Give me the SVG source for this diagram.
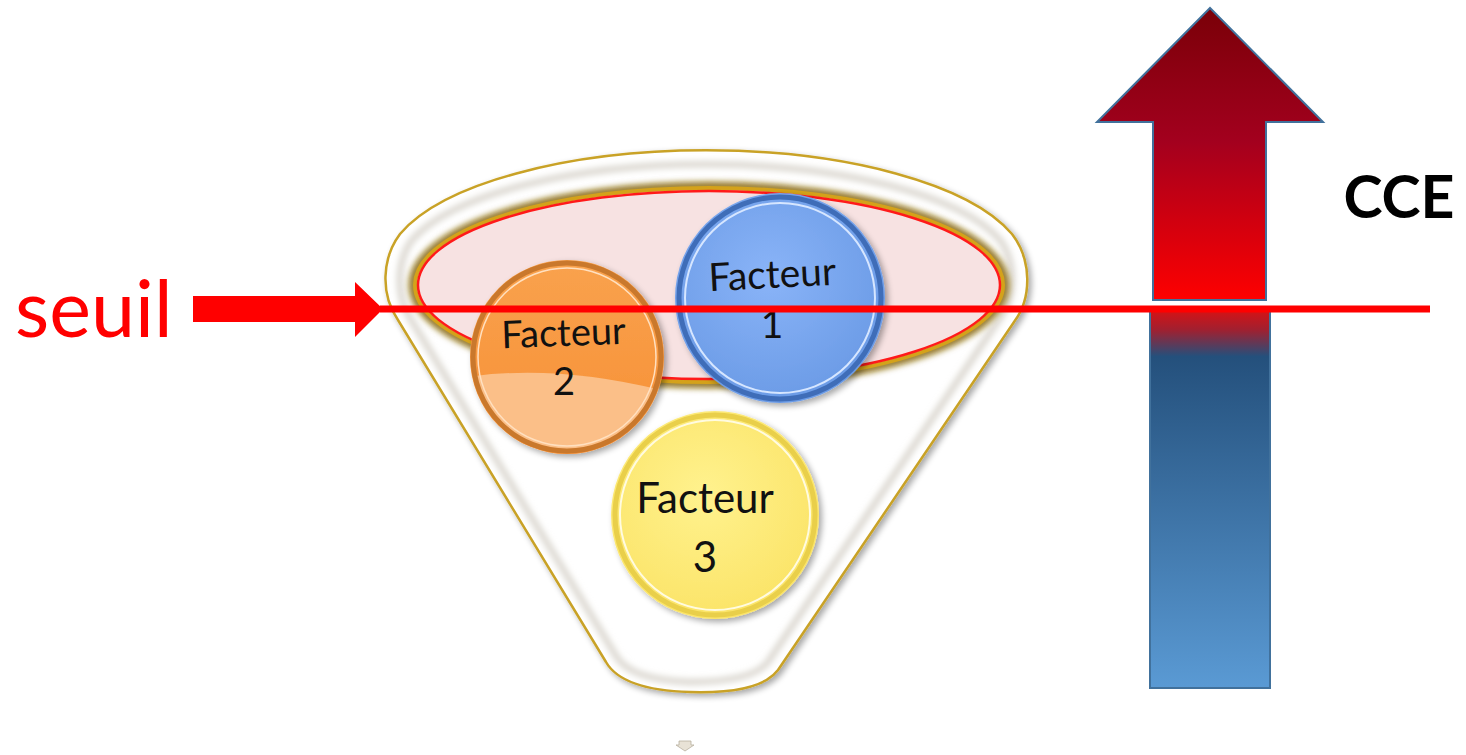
<svg xmlns="http://www.w3.org/2000/svg" width="1466" height="755" viewBox="0 0 1466 755">
  <defs>
    <style>
      .lbl { font-family: Lato, "Liberation Sans", sans-serif; fill: #111; text-anchor: middle; }
      .ring { fill: none; stroke-width: 5; }
    </style>
    <linearGradient id="arrowTop" x1="0" y1="10" x2="0" y2="302" gradientUnits="userSpaceOnUse">
      <stop offset="0" stop-color="#7a0008"/>
      <stop offset="0.45" stop-color="#a3001e"/>
      <stop offset="1" stop-color="#ff0000"/>
    </linearGradient>
    <linearGradient id="arrowLow" x1="0" y1="307" x2="0" y2="688" gradientUnits="userSpaceOnUse">
      <stop offset="0" stop-color="#e01010"/>
      <stop offset="0.06" stop-color="#a02030"/>
      <stop offset="0.13" stop-color="#24507c"/>
      <stop offset="1" stop-color="#5a9ad4"/>
    </linearGradient>
    <radialGradient id="gBlue" cx="0.45" cy="0.4" r="0.6">
      <stop offset="0" stop-color="#8ab4f8"/>
      <stop offset="1" stop-color="#6b9be6"/>
    </radialGradient>
    <linearGradient id="gOrange" x1="0" y1="0" x2="0" y2="1">
      <stop offset="0" stop-color="#f9a24e"/>
      <stop offset="1" stop-color="#f78f34"/>
    </linearGradient>
    <radialGradient id="gYellow" cx="0.45" cy="0.4" r="0.6">
      <stop offset="0" stop-color="#fff28e"/>
      <stop offset="1" stop-color="#fbe468"/>
    </radialGradient>
    <clipPath id="clipOrange">
      <circle cx="567" cy="357" r="94"/>
    </clipPath>
    <filter id="soft" x="-10%" y="-10%" width="120%" height="120%">
      <feGaussianBlur stdDeviation="3"/>
    </filter>
    <filter id="shadow" x="-20%" y="-20%" width="140%" height="140%">
      <feGaussianBlur in="SourceAlpha" stdDeviation="3"/>
      <feOffset dx="3" dy="3"/>
      <feComponentTransfer><feFuncA type="linear" slope="0.35"/></feComponentTransfer>
      <feMerge><feMergeNode/><feMergeNode in="SourceGraphic"/></feMerge>
    </filter>
  </defs>

  <rect width="1466" height="755" fill="#ffffff"/>

  <!-- funnel body -->
  <g id="funnel">
    <path d="M400,234 A321,120 0 0 1 1012,234 C1032,260 1032,298 1014,322 L778,670 Q760,694 690,692 Q622,690 606,662 L398,320 C380,294 382,258 400,234 Z"
          fill="#ffffff" stroke="#c9a227" stroke-width="2.5" filter="url(#shadow)"/>
    <!-- inner rim shading -->
    <path d="M412,240 A308,108 0 0 1 1000,240 C1016,262 1016,296 1000,318 L768,662 Q752,682 690,682 Q630,680 616,656 L410,318 C396,296 396,262 412,240 Z"
          fill="none" stroke="#d8d4cc" stroke-width="6" filter="url(#soft)"/>
  </g>

  <!-- opening of the funnel -->
  <g id="opening">
    <ellipse cx="709" cy="285" rx="296" ry="99" fill="none" stroke="#8a6a10" stroke-width="8" filter="url(#soft)"/>
    <ellipse cx="709" cy="285" rx="294" ry="97" fill="#f7e2e2" stroke="#d4a21a" stroke-width="4"/>
    <ellipse cx="709" cy="285" rx="291" ry="94" fill="none" stroke="#ff1a1a" stroke-width="2.5"/>
  </g>

  <!-- Facteur 3 -->
  <g id="facteur3">
    <circle cx="715" cy="515" r="104" fill="url(#gYellow)" filter="url(#shadow)"/>
    <circle cx="715" cy="515" r="100" class="ring" stroke="#e9cf4a"/>
    <circle cx="715" cy="515" r="95" fill="none" stroke="#fffbe0" stroke-width="2"/>
    <text class="lbl" x="705" y="513" font-size="42">Facteur</text>
    <text class="lbl" x="705" y="572" font-size="42">3</text>
  </g>

  <!-- Facteur 2 -->
  <g id="facteur2">
    <circle cx="567" cy="357" r="97" fill="url(#gOrange)" filter="url(#shadow)"/>
    <path d="M460,378 Q560,362 680,395 L680,470 L460,470 Z" fill="#fbbf88" clip-path="url(#clipOrange)"/>
    <circle cx="567" cy="357" r="94" class="ring" stroke="#c9782c"/>
    <circle cx="567" cy="357" r="89" fill="none" stroke="#ffe0c0" stroke-width="1.5"/>
    <text class="lbl" x="564" y="346" font-size="38" transform="rotate(-2 564 346)">Facteur</text>
    <text class="lbl" x="564" y="395" font-size="38" fill="#333">2</text>
  </g>

  <!-- Facteur 1 -->
  <g id="facteur1">
    <circle cx="780" cy="298" r="105" fill="url(#gBlue)" filter="url(#shadow)"/>
    <circle cx="780" cy="298" r="101" class="ring" stroke="#3f6db8" stroke-width="7"/>
    <circle cx="780" cy="298" r="95" fill="none" stroke="#d6e6ff" stroke-width="2"/>
    <text class="lbl" x="773" y="288" font-size="39" transform="rotate(-3 773 288)">Facteur</text>
    <text class="lbl" x="772" y="338" font-size="39">1</text>
  </g>

  <!-- CCE arrow -->
  <g id="cce">
    <rect x="1150" y="307" width="120" height="381" fill="url(#arrowLow)" stroke="#41719c" stroke-width="2"/>
    <path d="M1153,300 L1153,122 L1097,122 L1210,8 L1323,122 L1266,122 L1266,300 Z"
          fill="url(#arrowTop)" stroke="#41719c" stroke-width="2"/>
    <text x="1399" y="218" font-family="Lato, 'Liberation Sans', sans-serif" font-weight="bold" font-size="59" text-anchor="middle" fill="#000">CCE</text>
  </g>

  <!-- seuil threshold line and pointer -->
  <g id="connectors">
    <line x1="380" y1="309" x2="1430" y2="309" stroke="#ff0000" stroke-width="7"/>
    <path d="M193,296 L355,296 L355,282 L383,309 L355,337 L355,322 L193,322 Z" fill="#ff0000"/>
  </g>
  <g id="seuil">
    <text x="15" y="337" font-family="Lato, 'Liberation Sans', sans-serif" font-size="79" fill="#ff0000">seuil</text>
  </g>

  <!-- small marker below the funnel -->
  <g id="marker">
    <path d="M679,741 L691,741 L691,745 L694,745 L685,751 L676,745 L679,745 Z" fill="#e8e2d6" stroke="#b8b0a0" stroke-width="0.8"/>
  </g>
</svg>
